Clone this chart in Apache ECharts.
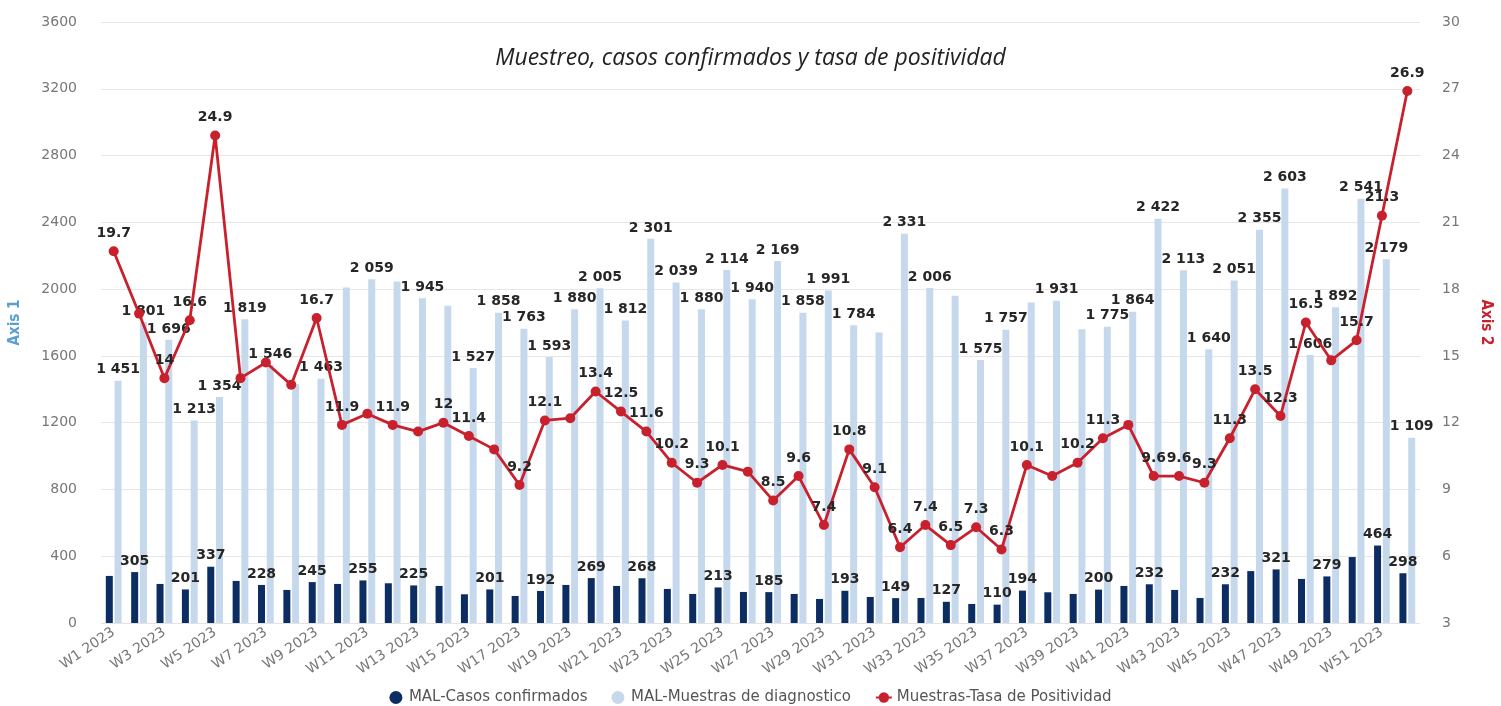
<!DOCTYPE html>
<html>
<head>
<meta charset="utf-8">
<script src="https://cdn.jsdelivr.net/npm/echarts@6/dist/echarts.min.js"></script>
<style>html,body{margin:0;padding:0;background:#fff}#c{width:1501px;height:706px}</style>
</head>
<body>
<div id="c"></div>
<script>
const weeks = [];
for (let i = 1; i <= 52; i++) weeks.push('W' + i + ' 2023');

const casos = [282,305,234,201,337,252,228,198,245,234,255,238,225,222,172,201,162,192,228,269,222,268,204,174,213,186,185,174,144,193,156,149,150,127,114,110,194,184,174,200,222,232,198,150,232,311,321,264,279,395,464,298];
const muestras = [1451,1801,1696,1213,1354,1819,1546,1430,1463,2010,2059,2045,1945,1900,1527,1858,1763,1593,1880,2005,1812,2301,2039,1880,2114,1940,2169,1858,1991,1784,1740,2331,2006,1960,1575,1757,1920,1931,1760,1775,1864,2422,2113,1640,2051,2355,2603,1606,1892,2541,2179,1109];
const tasa = [19.7,16.9,14,16.6,24.9,14.0,14.7,13.7,16.7,11.9,12.4,11.9,11.6,12,11.4,10.8,9.2,12.1,12.2,13.4,12.5,11.6,10.2,9.3,10.1,9.8,8.5,9.6,7.4,10.8,9.1,6.4,7.4,6.5,7.3,6.3,10.1,9.6,10.2,11.3,11.9,9.6,9.6,9.3,11.3,13.5,12.3,16.5,14.8,15.7,21.3,26.9];

// week numbers whose value labels are visible in the reference
const casosLabelWeeks = [2,4,5,7,9,11,13,16,18,20,22,25,27,30,32,34,36,37,40,42,45,47,49,51,52];
const muestrasLabelWeeks = [1,2,3,4,5,6,7,9,11,13,15,16,17,18,19,20,21,22,23,24,25,26,27,28,29,30,32,33,35,36,38,40,41,42,43,44,45,46,47,48,49,50,51,52];
const tasaLabelWeeks = [1,3,4,5,9,10,12,14,15,17,18,20,21,22,23,24,25,27,28,29,30,31,32,33,34,35,36,37,39,40,42,43,44,45,46,47,48,50,51,52];

const leftTicks = {min: 0, max: 3600, interval: 400};
const rightTicks = {min: 3, max: 30, interval: 3};

function fmtThousands(v){ return String(v).replace(/\B(?=(\d{3})+(?!\d))/g, ' '); }

const labelStyle = {fontFamily: 'DejaVu Sans', fontWeight: 'bold', fontSize: 14, color: '#262626'};

const chart = echarts.init(document.getElementById('c'), null, {renderer: 'canvas'});
chart.setOption({
  animation: false,
  backgroundColor: '#fff',
  title: {
    text: 'Muestreo, casos confirmados y tasa de positividad',
    left: 'center', top: 42,
    textStyle: {fontFamily: 'Open Sans', fontStyle: 'italic', fontWeight: 'normal', fontSize: 23, color: '#222'}
  },
  legend: {
    top: 685, left: 'center', itemGap: 24, itemWidth: 16, itemHeight: 13,
    textStyle: {fontFamily: 'DejaVu Sans', fontSize: 15, color: '#555'},
    data: [
      {name: 'MAL-Casos confirmados', icon: 'circle'},
      {name: 'MAL-Muestras de diagnostico', icon: 'circle'},
      {name: 'Muestras-Tasa de Positividad'}
    ]
  },
  grid: {left: 98, right: 71, top: 22, bottom: 83},
  xAxis: {
    type: 'category', data: weeks,
    axisLine: {show: true, lineStyle: {color: '#e3e3e3'}},
    axisTick: {show: false},
    axisLabel: {interval: 1, rotate: 34, color: '#777', fontFamily: 'DejaVu Sans', fontSize: 14, margin: 8}
  },
  yAxis: [
    {
      type: 'value', min: leftTicks.min, max: leftTicks.max, interval: leftTicks.interval,
      name: 'Axis 1', nameLocation: 'middle', nameGap: 78, nameRotate: 90,
      nameTextStyle: {color: '#5a9fd0', fontFamily: 'Liberation Sans Narrow, DejaVu Sans Condensed', fontWeight: 'bold', fontSize: 15},
      axisLine: {show: false}, axisTick: {show: false},
      axisLabel: {color: '#777', fontFamily: 'DejaVu Sans', fontSize: 14, margin: 24, formatter: v => String(v)},
      splitLine: {lineStyle: {color: '#e6e6e6'}}
    },
    {
      type: 'value', min: rightTicks.min, max: rightTicks.max, interval: rightTicks.interval,
      name: 'Axis 2', nameLocation: 'middle', nameGap: 58, nameRotate: -90,
      nameTextStyle: {color: '#c8202c', fontFamily: 'Liberation Sans Narrow, DejaVu Sans Condensed', fontWeight: 'bold', fontSize: 15},
      axisLine: {show: false}, axisTick: {show: false},
      axisLabel: {color: '#777', fontFamily: 'DejaVu Sans', fontSize: 14, margin: 22, formatter: v => String(v)},
      splitLine: {show: false}
    }
  ],
  series: [
    {
      name: 'MAL-Casos confirmados', type: 'bar', yAxisIndex: 0,
      data: casos, barWidth: 7, barGap: '25%',
      itemStyle: {color: '#0c2d62'},
      label: Object.assign({show: true, position: 'top', distance: 4,
        formatter: p => casosLabelWeeks.includes(p.dataIndex + 1) ? fmtThousands(p.value) : ''}, labelStyle)
    },
    {
      name: 'MAL-Muestras de diagnostico', type: 'bar', yAxisIndex: 0,
      data: muestras, barWidth: 7,
      itemStyle: {color: '#c6d8ec'},
      label: Object.assign({show: true, position: 'top', distance: 4,
        formatter: p => muestrasLabelWeeks.includes(p.dataIndex + 1) ? fmtThousands(p.value) : ''}, labelStyle)
    },
    {
      name: 'Muestras-Tasa de Positividad', type: 'line', yAxisIndex: 1,
      data: tasa, symbol: 'circle', symbolSize: 10, z: 5,
      lineStyle: {color: '#c8202c', width: 2.8},
      itemStyle: {color: '#c8202c'},
      label: Object.assign({show: true, position: 'top', distance: 6,
        formatter: p => tasaLabelWeeks.includes(p.dataIndex + 1) ? String(p.value) : ''}, labelStyle)
    }
  ]
});
</script>
</body>
</html>
